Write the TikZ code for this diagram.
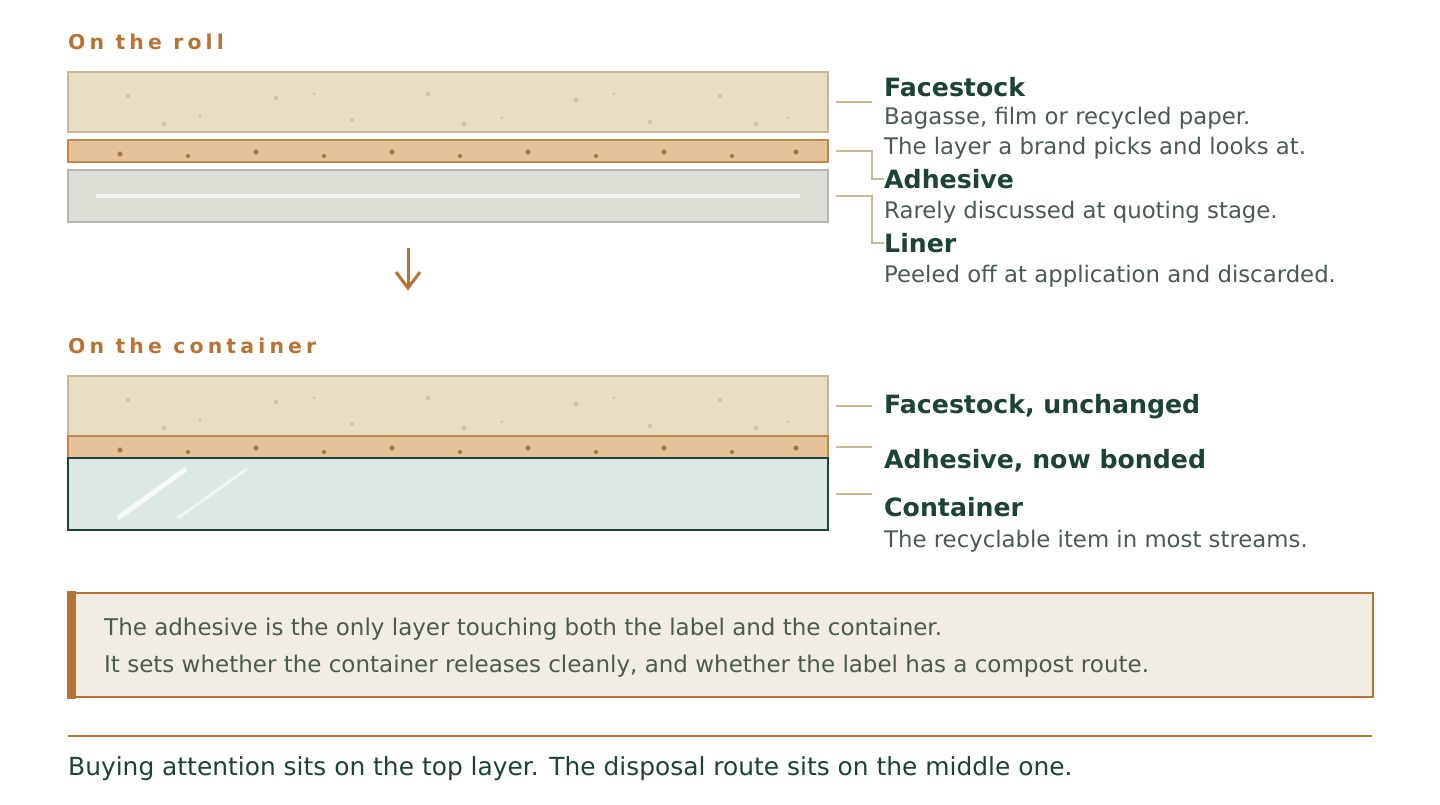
\documentclass[tikz,border=0pt]{standalone}
\usepackage{fontspec}
\setmainfont{DejaVu Sans}
\newfontfamily\titlefont[LetterSpace=20.5]{DejaVu Sans}
\usetikzlibrary{calc}
\definecolor{hd}{HTML}{1C4333}
\definecolor{ds}{HTML}{4A5A52}
\definecolor{brn}{HTML}{B87333}
\definecolor{facefill}{HTML}{E8DEC5}
\definecolor{facedraw}{HTML}{C9B898}
\definecolor{facedot}{HTML}{D3C29D}
\definecolor{adhfill}{HTML}{E4C29A}
\definecolor{adhdraw}{HTML}{C2884A}
\definecolor{adhdot}{HTML}{A8744A}
\definecolor{linfill}{HTML}{DDDDD5}
\definecolor{lindraw}{HTML}{B7B6AE}
\definecolor{linline}{HTML}{F4F3EF}
\definecolor{confill}{HTML}{DCE8E3}
\definecolor{condraw}{HTML}{1C4333}
\definecolor{connc}{HTML}{C8B895}
\definecolor{boxfill}{HTML}{F2EDE2}
\begin{document}
\begin{tikzpicture}[x=1pt,y=-1pt,
  layer/.style={draw, line width=2pt, inner sep=0pt, outer sep=0pt, anchor=north west, minimum width=760pt},
  face/.style={layer, fill=facefill, draw=facedraw, minimum height=60pt},
  adh/.style={layer, fill=adhfill, draw=adhdraw, minimum height=22pt},
  liner/.style={layer, fill=linfill, draw=lindraw, minimum height=52pt},
  cont/.style={layer, fill=confill, draw=condraw, minimum height=72pt},
  fdot/.style={fill=facedot},
  adot/.style={fill=adhdot},
  conn/.style={draw=connc, line width=2pt},
  heading/.style={anchor=base west, inner sep=0pt, font=\fontsize{25.2}{30}\selectfont\bfseries, text=hd},
  desc/.style={anchor=base west, inner sep=0pt, font=\fontsize{22.8}{28}\selectfont, text=ds},
  sectitle/.style={anchor=base west, inner sep=0pt, font=\titlefont\fontsize{20.4}{24}\selectfont\bfseries, text=brn},
  boxtext/.style={anchor=base west, inner sep=0pt, font=\fontsize{23}{28}\selectfont, text=ds},
]
\useasboundingbox (0,0) rectangle (1440,804);

% ---------- On the roll ----------
\node[sectitle] (t1) at (68,49) {On the roll};

\node[face] (rf) at (68,72) {};
\foreach \x/\y/\r in {128/24/2.3,164/52/2,200/44/1.7,276/26/2.3,314/22/1.7,352/48/2,428/22/2,464/52/2.3,502/46/1.7,576/28/2.3,614/22/1.7,650/50/2,720/24/2.3,756/52/2,788/46/1.7}
  \fill[fdot] (\x,72+\y) circle[radius=\r pt];

\node[adh] (ra) at (68,140) {};
\foreach \x/\y/\r in {120/14/2.6,188/16/2.1,256/12/2.6,324/16/2.1,392/12/2.6,460/16/2.1,528/12/2.6,596/16/2.1,664/12/2.6,732/16/2.1,796/12/2.6}
  \fill[adot] (\x,140+\y) circle[radius=\r pt];

\node[liner] (rl) at (68,170) {};
\draw[linline, line width=4pt] (96,196) -- (800,196);

% labels (roll)
\node[heading] (lf) at (884,96) {Facestock};
\node[desc] (lf1) at (884,124) {Bagasse, film or recycled paper.};
\node[desc] (lf2) at (884,154) {The layer a brand picks and looks at.};
\node[heading] (la) at (884,188) {Adhesive};
\node[desc] (la1) at (884,218) {Rarely discussed at quoting stage.};
\node[heading] (ll) at (884,252) {Liner};
\node[desc] (ll1) at (884,282) {Peeled off at application and discarded.};

\draw[conn] ([xshift=8pt]rf.east) -- ++(36,0);
\draw[conn] ([xshift=8pt]ra.east) -- ++(36,0) |- (la.west);
\draw[conn] ([xshift=8pt]rl.east) -- ++(36,0) |- (ll.west);

% ---------- arrow ----------
\coordinate (arrS) at (408,248);
\coordinate (arrE) at (408,288);
\draw[brn, line width=3pt] (arrS) -- (arrE);
\draw[brn, line width=3pt, line join=miter] ($(arrE)+(-12,-16)$) -- (arrE) -- ($(arrE)+(12,-16)$);

% ---------- On the container ----------
\node[sectitle] (t2) at (68,353) {On the container};

\node[face] (cf) at (68,376) {};
\foreach \x/\y/\r in {128/24/2.3,164/52/2,200/44/1.7,276/26/2.3,314/22/1.7,352/48/2,428/22/2,464/52/2.3,502/46/1.7,576/28/2.3,614/22/1.7,650/50/2,720/24/2.3,756/52/2,788/46/1.7}
  \fill[fdot] (\x,376+\y) circle[radius=\r pt];

\node[adh] (ca) at (68,436) {};
\foreach \x/\y/\r in {120/14/2.6,188/16/2.1,256/12/2.6,324/16/2.1,392/12/2.6,460/16/2.1,528/12/2.6,596/16/2.1,664/12/2.6,732/16/2.1,796/12/2.6}
  \fill[adot] (\x,436+\y) circle[radius=\r pt];

\node[cont] (cc) at (68,458) {};
\draw[white, opacity=.8, line width=5pt] (118,518) -- (186,469);
\draw[white, opacity=.6, line width=3pt] (178,518) -- (247,469);

\node[heading] (mf) at (884,413) {Facestock, unchanged};
\node[heading] (ma) at (884,468) {Adhesive, now bonded};
\node[heading] (mc) at (884,516) {Container};
\node[desc] (mc1) at (884,547) {The recyclable item in most streams.};

\draw[conn] ([xshift=8pt]cf.east) -- ++(36,0);
\draw[conn] ([xshift=8pt]ca.east) -- ++(36,0);
\draw[conn] ([xshift=8pt]cc.east) -- ++(36,0);

% ---------- note box ----------
\node[draw=brn, fill=boxfill, line width=1.8pt, inner sep=0pt, anchor=north west, minimum width=1304pt, minimum height=104pt] (box) at (68,592) {};
\fill[brn] ([xshift=-0.9pt,yshift=0.9pt]box.north west) rectangle ([xshift=8pt,yshift=-0.9pt]box.south west);
\node[boxtext] (b1) at (104,635) {The adhesive is the only layer touching both the label and the container.};
\node[boxtext] (b2) at (104,672) {It sets whether the container releases cleanly, and whether the label has a compost route.};

% ---------- footer ----------
\coordinate (ruleL) at (68,736);
\coordinate (ruleR) at (1372,736);
\draw[brn, line width=2.8pt] (ruleL) -- (ruleR);
\node[anchor=base west, inner sep=0pt, font=\fontsize{24.9}{30}\selectfont, text=hd] (foot) at (68,775) {Buying attention sits on the top layer. The disposal route sits on the middle one.};
\end{tikzpicture}
\end{document}
